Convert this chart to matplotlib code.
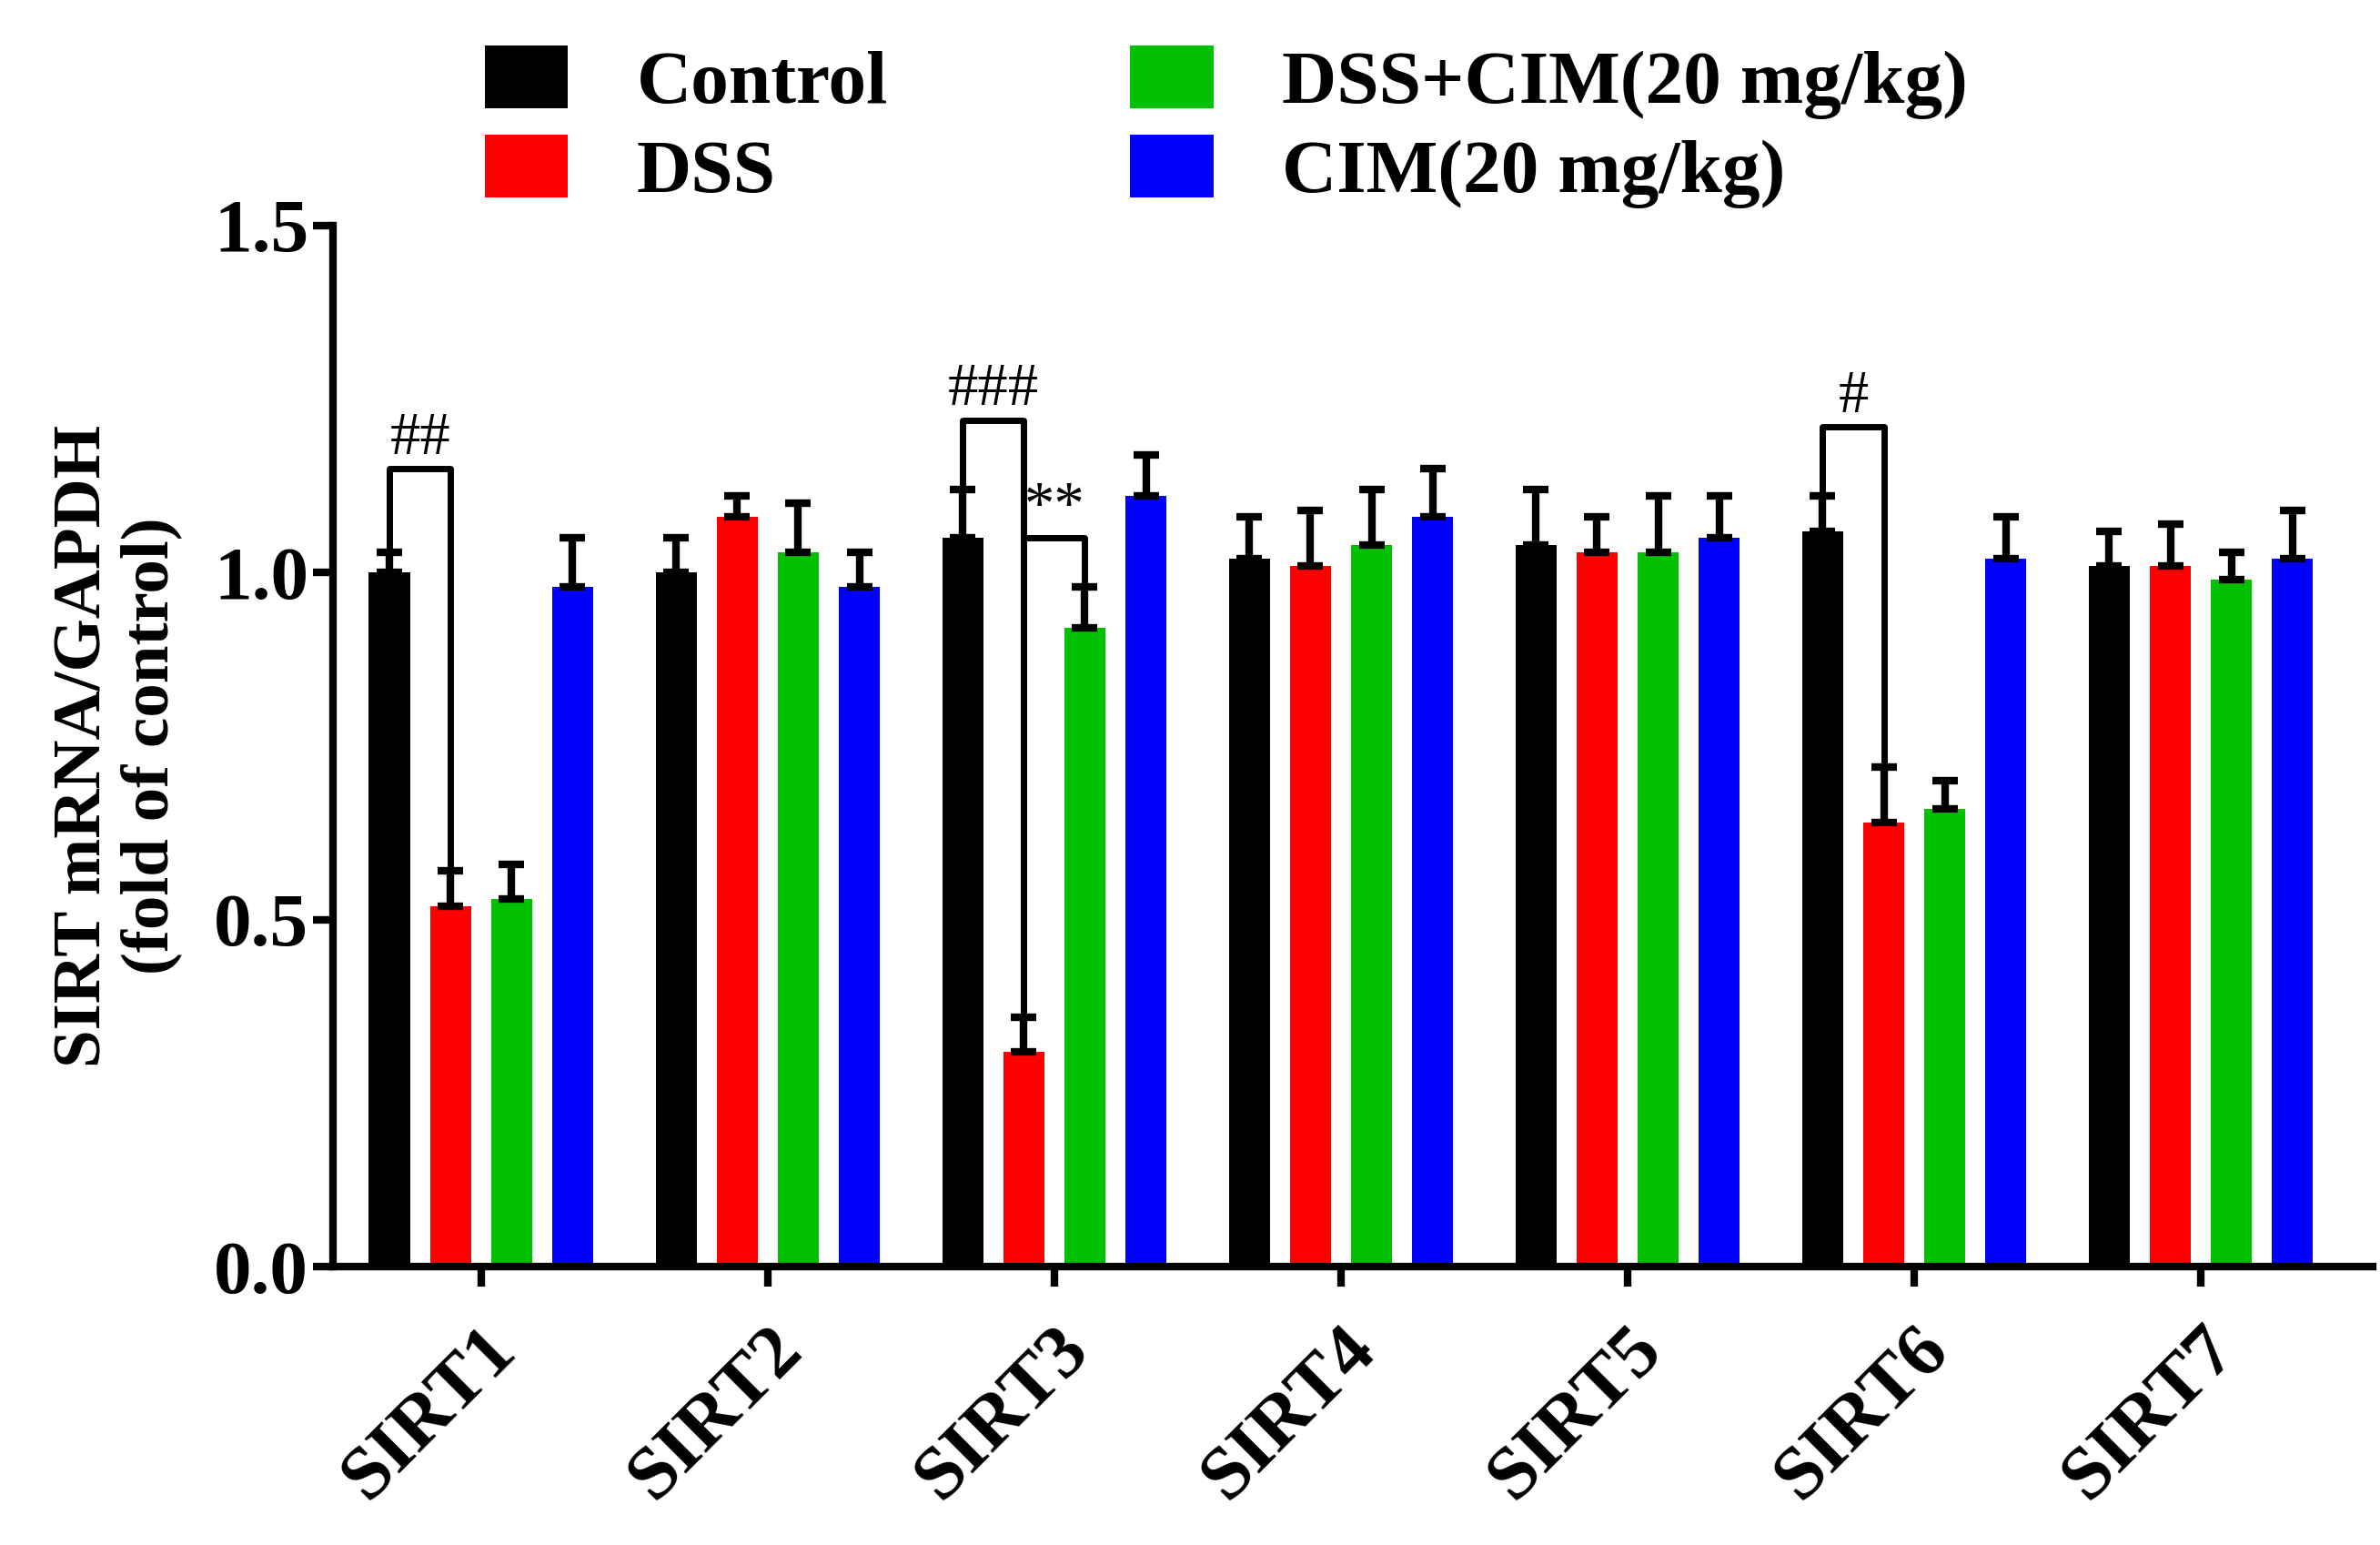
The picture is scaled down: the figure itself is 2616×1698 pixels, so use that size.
import numpy as np
import matplotlib
matplotlib.use("Agg")
import matplotlib.pyplot as plt

plt.rcParams['font.family'] = ['Liberation Serif', 'DejaVu Serif']
plt.rcParams['font.weight'] = 'bold'

# --- data ---
genes = ['SIRT1', 'SIRT2', 'SIRT3', 'SIRT4', 'SIRT5', 'SIRT6', 'SIRT7']
groups = ['Control', 'DSS', 'DSS+CIM(20 mg/kg)', 'CIM(20 mg/kg)']
colors = ['#000000', '#ff0000', '#00c000', '#0000ff']
control = [1.00, 1.00, 1.05, 1.02, 1.04, 1.06, 1.01]
dss = [0.52, 1.08, 0.31, 1.01, 1.03, 0.64, 1.01]
dss_cim = [0.53, 1.03, 0.92, 1.04, 1.03, 0.66, 0.99]
cim = [0.98, 0.98, 1.11, 1.08, 1.05, 1.02, 1.02]
control_err = [0.03, 0.05, 0.07, 0.06, 0.08, 0.05, 0.05]
dss_err = [0.05, 0.03, 0.05, 0.08, 0.05, 0.08, 0.06]
dss_cim_err = [0.05, 0.07, 0.06, 0.08, 0.08, 0.04, 0.04]
cim_err = [0.07, 0.05, 0.06, 0.07, 0.06, 0.06, 0.07]
# (gene index, bar a, bar b, bracket height, label)
sig = [(0, 0, 1, 1.15, '##'), (2, 0, 1, 1.22, '###'),
       (2, 1, 2, 1.05, '**'), (5, 0, 1, 1.21, '#')]

values = [control, dss, dss_cim, cim]
errors = [control_err, dss_err, dss_cim_err, cim_err]

fig = plt.figure(figsize=(26.16, 16.98), dpi=100)
ax = fig.add_axes([0.14, 0.18, 0.857, 0.674])

x = np.arange(len(genes))
width = 0.144
step = 0.213
offsets = [(i - 1.5) * step for i in range(4)]
for i in range(4):
    ax.bar(x + offsets[i], values[i], width, color=colors[i], label=groups[i], zorder=2)
    ax.errorbar(x + offsets[i], values[i], yerr=[np.zeros(7), errors[i]], fmt='none',
                ecolor='black', elinewidth=6, capsize=10, capthick=6, zorder=3)

for g, a, b, h, lab in sig:
    xa = x[g] + offsets[a]
    xb = x[g] + offsets[b]
    ya = values[a][g] + errors[a][g]
    yb = values[b][g] + errors[b][g]
    ax.plot([xa, xa, xb, xb], [ya, h, h, yb], color='black', lw=5, zorder=4)
    ax.text((xa + xb) / 2, h + 0.003, lab, ha='center', va='bottom',
            fontsize=48, fontweight='normal')

ax.set_xlim(-0.516, 6.6)
ax.set_ylim(0, 1.5)
ax.set_yticks([0.0, 0.5, 1.0, 1.5])
ax.set_yticklabels(['0.0', '0.5', '1.0', '1.5'])
ax.set_xticks(x)
ax.set_xticklabels(genes, rotation=45, ha='right', rotation_mode='anchor')
ax.tick_params(axis='both', labelsize=60, width=6, length=16, direction='out')
ax.tick_params(axis='x', pad=22)
for s in ['top', 'right']:
    ax.spines[s].set_visible(False)
for s in ['left', 'bottom']:
    ax.spines[s].set_linewidth(6)
for t in ax.get_xticklabels() + ax.get_yticklabels():
    t.set_fontweight('bold')
ax.set_ylabel('SIRT mRNA/GAPDH\n(fold of control)', fontsize=54, fontweight='bold',
              labelpad=25, linespacing=1.1)

handles, labels = ax.get_legend_handles_labels()
fig.legend(handles, labels, ncol=2,
           loc='upper left', bbox_to_anchor=(0.175, 1.015), frameon=False,
           prop={'size': 60, 'weight': 'bold'}, handlelength=1.1, handleheight=0.9,
           handletextpad=0.9, columnspacing=3.2, labelspacing=0.2)

fig.savefig('out.png', dpi=100)
